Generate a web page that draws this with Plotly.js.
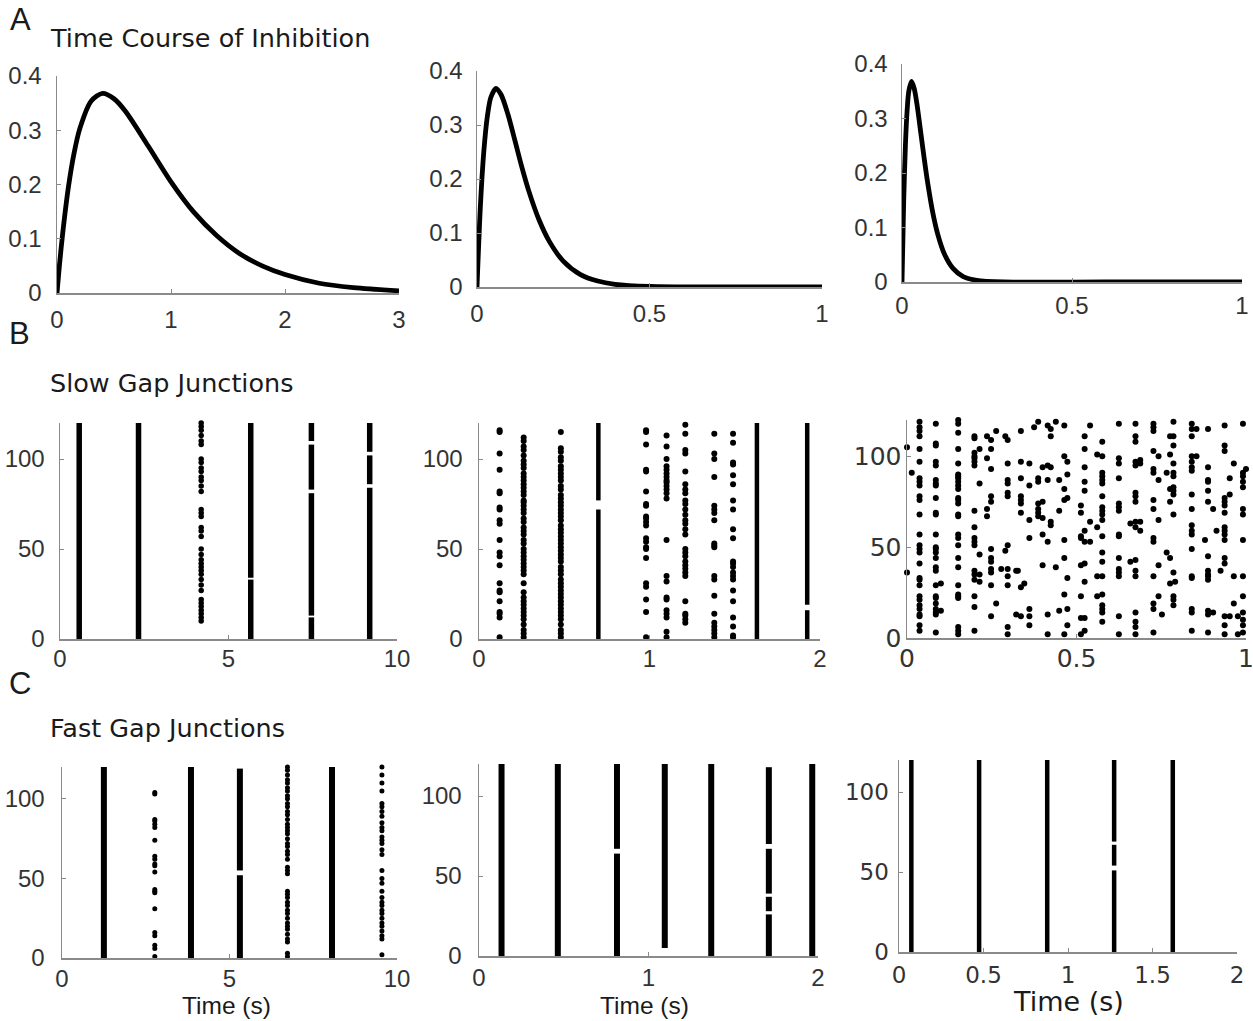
<!DOCTYPE html>
<html>
<head>
<meta charset="utf-8">
<script src="https://cdn.plot.ly/plotly-3.0.1.min.js"></script>
<style>html,body{margin:0;padding:0;background:#fff;}#chart{width:1253px;height:1021px;}</style>
</head>
<body>
<div id="chart"></div>
<script>
// ---------- Row A: time course of inhibition ----------
const A1_t = [0, 0.02, 0.05, 0.1, 0.15, 0.2, 0.3, 0.4, 0.5, 0.6, 0.8, 1.0, 1.2, 1.4, 1.6, 1.8, 2.0, 2.3, 2.6, 3.0];
const A1_v = [0, 0.048, 0.11, 0.195, 0.258, 0.303, 0.354, 0.368, 0.358, 0.335, 0.271, 0.205, 0.149, 0.106, 0.073, 0.05, 0.034, 0.018, 0.01, 0.004];
const A2_t = [0, 0.01, 0.02, 0.03, 0.04, 0.055, 0.07, 0.09, 0.11, 0.13, 0.15, 0.18, 0.21, 0.25, 0.3, 0.35, 0.4, 0.5, 0.7, 1.0];
const A2_v = [0, 0.152, 0.253, 0.316, 0.351, 0.368, 0.356, 0.319, 0.271, 0.222, 0.178, 0.124, 0.084, 0.048, 0.023, 0.011, 0.005, 0.001, 0, 0];
const A3_t = [0, 0.005, 0.01, 0.015, 0.02, 0.028, 0.036, 0.045, 0.055, 0.065, 0.075, 0.09, 0.105, 0.125, 0.15, 0.18, 0.22, 0.3, 0.6, 1.0];
const A3_v = [0, 0.149, 0.25, 0.314, 0.35, 0.368, 0.355, 0.322, 0.275, 0.228, 0.184, 0.129, 0.088, 0.051, 0.025, 0.01, 0.003, 0, 0, 0];

// ---------- Row B: slow gap junctions (spike rasters) ----------
// synchronous bursts: time, lowest neuron, highest neuron (one entry per unbroken segment)
const B1_burstT  = [0.57, 2.33, 5.66, 5.66, 7.46, 7.46, 7.46, 7.46, 9.19, 9.19, 9.19];
const B1_burstLo = [0, 0, 0, 34, 0, 13, 83, 110, 0, 86, 104];
const B1_burstHi = [120, 120, 33, 120, 12, 81, 108, 120, 84, 102, 120];
const B1_colT = [4.19];
const B1_colN = [[120,118,116,113,110,108,100,98,95,93,90,88,85,82,72,70,68,62,60,57,50,47,44,42,40,38,36,33,30,27,22,20,18,16,14,12,10]];

const B2_burstT  = [0.70, 0.70, 1.63, 1.925, 1.925];
const B2_burstLo = [0, 77, 0, 0, 19];
const B2_burstHi = [72, 120, 120, 16, 120];
const B2_colT = [0.121, 0.262, 0.48, 0.98, 1.10, 1.21, 1.38, 1.49];
const B2_colN = [
  [116,115,103,94,82,81,73,72,66,64,55,48,46,41,31,27,26,21,15,14,12,1],
  [112,110,107,105,102,99,97,95,92,90,88,86,84,82,80,77,76,74,72,70,67,65,62,60,58,55,53,50,48,46,44,42,40,38,36,31,26,23,21,19,17,15,13,11,8,5,3,1],
  [115,106,104,101,99,96,94,92,90,88,85,83,80,78,76,74,72,70,68,66,63,61,59,57,55,53,51,49,47,45,43,40,38,36,33,31,29,27,25,23,21,19,17,15,13,11,8,5,3,1],
  [116,115,108,94,93,82,75,74,68,67,65,63,56,54,51,50,45,31,29,22,15,1],
  [113,107,100,96,94,92,90,88,87,85,83,81,78,55,35,32,23,22,16,14,12,4,1],
  [119,114,105,103,93,86,83,81,77,75,72,69,66,64,61,58,50,48,46,43,41,39,37,35,21,14,13,11,9],
  [114,103,100,90,74,72,70,66,53,52,51,35,33,24,14,9,7,5,3,1],
  [114,109,98,97,91,86,77,72,61,56,43,42,40,37,35,33,27,21,12,7,2,1]
];

const B3_colT = [0.0, 0.014, 0.037, 0.085, 0.10, 0.151, 0.199, 0.214, 0.236, 0.248, 0.263, 0.278, 0.290, 0.297, 0.322,
  0.327, 0.336, 0.346, 0.361, 0.375, 0.387, 0.400, 0.415, 0.424, 0.439, 0.449, 0.464, 0.473, 0.513, 0.524, 0.540, 0.561, 0.576, 0.625, 0.659,
  0.674, 0.688, 0.727, 0.742, 0.752, 0.766, 0.776, 0.786, 0.791, 0.840, 0.854, 0.879, 0.888, 0.903, 0.913, 0.925, 0.937, 0.952, 0.964, 0.976, 0.991, 1.0];
const B3_colN = [
  [105,36], [91],
  [119,116,114,111,104,97,88,86,84,78,76,68,57,51,49,47,41,33,32,29,23,21,18,16,13,12,7,4],
  [118,107,106,97,95,87,85,84,77,69,68,57,50,49,47,44,39,37,29,23,22,19,16,14,13,3],
  [30,15],
  [120,118,113,104,96,90,89,88,86,84,82,77,76,74,68,67,57,55,51,44,39,29,24,23,22,6,4,2],
  [111,110,102,100,99,97,95,70,61,55,53,51,37,35,32,23,17,4],
  [104,85,46,35,31], [111,99,71,67],
  [109,104,93,78,75,49,44,42,38,36,29,12],
  [114,19], [38], [111,48],
  [109,96,87,85,80,78,51,38,34,29,6,2],
  [37,13],
  [37], [114,97,88,78,76,74,69,28,12], [30],
  [96,84,65,55,16,12,7], [116], [119,88,86,74,71,69,67], [94,75,66,57,40],
  [117,95,87,53,13,2], [115,111,94,64,62], [119,39], [87,70,15],
  [117,100,82,76,54,44,24,2], [97,90,77,33,16,7],
  [73,69,56,55,40,23,11,2], [111,104,94,86,81,59,53,41,31,11,4], [117,64,53], [101,61,34,23],
  [108,100,91,89,87,85,78,72,70,68,65,56,47,42,34,24,18,16,14,9],
  [118,99,96,88,74,72,70,57,56,44,38,36,34,12,2], [63,42],
  [118,111,108,97,95,80,78,75,64,61,43,37,34,14,9,6,2], [98,96,64,59],
  [118,116,114,103,93,91,76,71,55,53,34,19,16,3], [100,87,65,40,23], [13], [91,47],
  [111,101,82,75,44,30], [119,111,106,96,91,89,83,81,79,68,36,23,21,18], [31],
  [118,115,111,100,97,94,92,79,71,62,59,57,49,34,33,16,14,4], [115,100], [54],
  [115,94,87,86,81,75,45,37,35,34,32,15,13,3], [71,14], [59], [37],
  [117,106,103,77,75,73,69,61,59,57,54,44,41,12,7,2], [88,79,12], [96,34,19], [12,2],
  [118,91,89,86,83,71,68,54,34,23,14,10,7,3], [93]
];

// ---------- Row C: fast gap junctions ----------
const C1_burstT  = [1.25, 3.85, 5.31, 5.31, 8.06];
const C1_burstLo = [0, 0, 0, 55, 0];
const C1_burstHi = [120, 120, 52, 119, 120];
const C1_colT = [2.77, 6.73, 9.55];
const C1_colN = [
  [104,103,87,86,84,82,74,64,62,59,58,54,43,42,41,31,16,14,8,6,1],
  [120,118,115,112,110,107,105,102,100,97,95,92,90,87,84,82,80,78,75,72,70,67,65,62,57,55,53,42,40,38,35,33,30,28,25,22,20,18,15,12,10,3,1],
  [120,115,110,105,97,95,92,89,85,82,80,76,74,72,68,65,55,50,47,42,38,35,33,30,28,25,22,20,17,14,12,2]
];
const C2_burstT  = [0.133, 0.465, 0.814, 0.814, 1.096, 1.37, 1.71, 1.71, 1.71, 1.71, 1.966];
const C2_burstLo = [0, 0, 0, 67, 5, 0, 0, 28, 39, 70, 0];
const C2_burstHi = [120, 120, 64, 120, 120, 120, 26, 37, 67, 118, 120];
const C3_burstT  = [0.073, 0.474, 0.877, 1.273, 1.273, 1.273, 1.62];
const C3_burstLo = [0, 0, 0, 0, 54, 69, 0];
const C3_burstHi = [120, 120, 120, 51, 67, 120, 120];

// ---------- tick labels ----------
const tickA_y = [0, 0.1, 0.2, 0.3, 0.4];
const tickA_yText = ['0', '0.1', '0.2', '0.3', '0.4'];
const tickN = [0, 50, 100];
const tickN_text = ['0', '50', '100'];

// ---------- layout helpers ----------
const W = 1253, H = 1021;
const GRAY = '#8a8a8a', TXT = '#333333';
const SANS = 'Liberation Sans, Arial, sans-serif';
const DJV = 'DejaVu Sans, sans-serif';

// panel boxes in pixels: [left, right, top, bottom]
const panels = [
  {box:[57,399,76,293],   xr:[0,3], yr:[0,0.4], xt:[0,1,2,3], xtt:['0','1','2','3'], yt:tickA_y, ytt:tickA_yText, xs:5, ys:9, font:SANS, fs:24},
  {box:[477,822,71,287],  xr:[0,1], yr:[0,0.4], xt:[0,0.5,1], xtt:['0','0.5','1'], yt:tickA_y, ytt:tickA_yText, xs:5, ys:8, font:SANS, fs:24},
  {box:[902,1242,64,282], xr:[0,1], yr:[0,0.4], xt:[0,0.5,1], xtt:['0','0.5','1'], yt:tickA_y, ytt:tickA_yText, xs:2, ys:8, font:SANS, fs:24},
  {box:[60,397,423,639],  xr:[0,10], yr:[0,120], xt:[0,5,10], xtt:['0','5','10'], yt:tickN, ytt:tickN_text, xs:-2, ys:9, font:SANS, fs:24},
  {box:[479,820,423,639], xr:[0,2], yr:[0,120], xt:[0,1,2], xtt:['0','1','2'], yt:tickN, ytt:tickN_text, xs:-2, ys:10, font:SANS, fs:24},
  {box:[907,1246,420,638],xr:[0,1], yr:[0,120], xt:[0,0.5,1], xtt:['0','0.5','1'], yt:tickN, ytt:tickN_text, xs:-3, ys:-1, font:DJV, fs:25},
  {box:[62,397,767,958],  xr:[0,10], yr:[0,120], xt:[0,5,10], xtt:['0','5','10'], yt:tickN, ytt:tickN_text, xs:-1, ys:11, font:SANS, fs:24},
  {box:[479,818,764,956], xr:[0,2], yr:[0,120], xt:[0,1,2], xtt:['0','1','2'], yt:tickN, ytt:tickN_text, xs:0, ys:11, font:SANS, fs:24},
  {box:[899,1237,760,952],xr:[0,2], yr:[0,120], xt:[0,0.5,1,1.5,2], xtt:['0','0.5','1','1.5','2'], yt:tickN, ytt:tickN_text, xs:2, ys:4, font:DJV, fs:23}
];

const layout = {
  width: W, height: H,
  margin: {l:0, r:0, t:0, b:0},
  paper_bgcolor: '#ffffff', plot_bgcolor: 'rgba(0,0,0,0)',
  showlegend: false,
  annotations: [],
};

panels.forEach((p, i) => {
  const k = i === 0 ? '' : String(i + 1);
  const [l, r, t, b] = p.box;
  const common = {
    showline: true, linecolor: GRAY, linewidth: 1.5,
    ticks: 'inside', ticklen: 4, tickwidth: 1, tickcolor: GRAY,
    showgrid: false, zeroline: false, fixedrange: true,
    ticklabeloverflow: 'allow',
    tickfont: {family: p.font, size: p.fs, color: TXT},
  };
  layout['xaxis' + k] = Object.assign({}, common, {
    domain: [l / W, r / W], range: p.xr, anchor: 'y' + k,
    tickmode: 'array', tickvals: p.xt, ticktext: p.xtt, ticklabelstandoff: p.xs
  });
  layout['yaxis' + k] = Object.assign({}, common, {
    domain: [1 - b / H, 1 - t / H], range: p.yr, anchor: 'x' + k,
    tickmode: 'array', tickvals: p.yt, ticktext: p.ytt, ticklabelstandoff: p.ys
  });
});

function ann(text, px, py, size, family, anchor, vanchor) {
  return {text: text, xref: 'paper', yref: 'paper', x: px / W, y: 1 - py / H,
    xanchor: anchor || 'left', yanchor: vanchor || 'middle', showarrow: false, borderpad: 0,
    font: {family: family, size: size, color: '#1a1a1a'}};
}
layout.annotations.push(
  ann('A', 9, 20, 31, SANS), ann('B', 8, 333, 31, SANS), ann('C', 8, 683, 31, SANS),
  ann('Time Course of Inhibition', 49, 38, 25.5, DJV),
  ann('Slow Gap Junctions', 49, 383, 25.5, DJV),
  ann('Fast Gap Junctions', 49, 728, 25.5, DJV),
  ann('Time (s)', 226, 1020, 24.5, SANS, 'center', 'bottom'),
  ann('Time (s)', 644, 1020, 24.5, SANS, 'center', 'bottom'),
  ann('Time (s)', 1068, 1018, 27, DJV, 'center', 'bottom')
);

// ---------- traces ----------
const traces = [];
function axes(i) { const k = i === 0 ? '' : String(i + 1); return {xaxis: 'x' + k, yaxis: 'y' + k}; }

function curve(i, xs, ys) {
  traces.push(Object.assign({type: 'scatter', mode: 'lines', x: xs, y: ys, cliponaxis: false,
    line: {color: '#000', width: 4.8, shape: 'spline', smoothing: 0.8}, hoverinfo: 'skip'}, axes(i)));
}
function bursts(i, T, lo, hi, w) {
  const xs = [], ys = [];
  T.forEach((t, j) => { xs.push(t, t, null); ys.push(lo[j], hi[j], null); });
  traces.push(Object.assign({type: 'scatter', mode: 'lines', x: xs, y: ys, cliponaxis: false,
    line: {color: '#000', width: w}, hoverinfo: 'skip'}, axes(i)));
}
function dots(i, colT, colN, size) {
  const xs = [], ys = [];
  colT.forEach((t, j) => colN[j].forEach(n => { xs.push(t); ys.push(n); }));
  traces.push(Object.assign({type: 'scatter', mode: 'markers', x: xs, y: ys, cliponaxis: false,
    marker: {color: '#000', size: size, line: {width: 0}}, hoverinfo: 'skip'}, axes(i)));
}

curve(0, A1_t, A1_v);
curve(1, A2_t, A2_v);
curve(2, A3_t, A3_v);

bursts(3, B1_burstT, B1_burstLo, B1_burstHi, 5.5);
dots(3, B1_colT, B1_colN, 5.5);
bursts(4, B2_burstT, B2_burstLo, B2_burstHi, 4.5);
dots(4, B2_colT, B2_colN, 6);
dots(5, B3_colT, B3_colN, 6);

bursts(6, C1_burstT, C1_burstLo, C1_burstHi, 6);
dots(6, C1_colT, C1_colN, 5);
bursts(7, C2_burstT, C2_burstLo, C2_burstHi, 6);
bursts(8, C3_burstT, C3_burstLo, C3_burstHi, 4.5);

Plotly.newPlot('chart', traces, layout, {staticPlot: true, displayModeBar: false});
</script>
</body>
</html>
